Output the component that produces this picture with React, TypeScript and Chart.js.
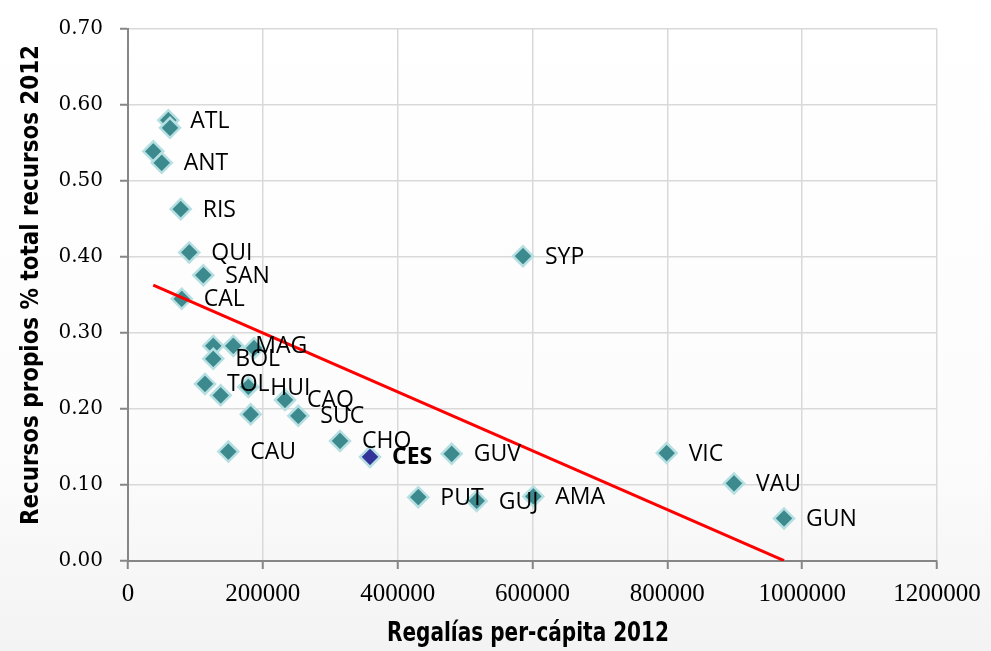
import React, { useEffect, useRef } from "react";
import { Chart, registerables } from "chart.js";

Chart.register(...registerables);

// ---- Data ----
const pointLabels = [
  "ATL", "", "", "ANT", "RIS", "QUI", "SAN", "CAL", "", "MAG", "BOL", "", "TOL", "", "HUI",
  "", "CAQ", "SUC", "CHO", "CAU", "CES", "GUV", "PUT", "GUJ", "AMA", "SYP", "VIC", "VAU", "GUN",
];
const regaliasPerCapita = [
  59800, 62300, 37500, 50000, 78200, 90900, 111700, 79700, 126500, 156200, 126500, 186900, 114200,
  137500, 178500, 182000, 232900, 252600, 314500, 148800, 359000, 480100, 430600, 517200, 601200,
  585900, 799000, 898900, 973100,
];
const recursosPropios = [
  0.58, 0.57, 0.539, 0.524, 0.463, 0.406, 0.376, 0.345, 0.283, 0.283, 0.266, 0.28, 0.233, 0.218,
  0.229, 0.193, 0.212, 0.191, 0.158, 0.144, 0.137, 0.141, 0.084, 0.079, 0.085, 0.401, 0.142, 0.102,
  0.056,
];
const highlighted = "CES";
const trendX = [37500, 973100];
const trendY = [0.363, 0.0005];
const xTickValues = [0, 200000, 400000, 600000, 800000, 1000000, 1200000];
const yTickValues = [0, 0.1, 0.2, 0.3, 0.4, 0.5, 0.6, 0.7];
const xTitle = "Regalías per-cápita 2012";
const yTitle = "Recursos propios % total recursos 2012";

const TEAL = "#3d8a8e";
const TEAL_BORDER = "#b6dfe2";
const CES_FILL = "#333399";

const backgroundPlugin = {
  id: "bg",
  beforeDraw(chart: any) {
    const { ctx, width, height } = chart;
    const g = ctx.createLinearGradient(0, 0, 0, height);
    g.addColorStop(0, "#ffffff");
    g.addColorStop(0.7, "#fcfcfc");
    g.addColorStop(1, "#f3f3f3");
    ctx.save();
    ctx.fillStyle = g;
    ctx.fillRect(0, 0, width, height);
    ctx.restore();
  },
};

const labelPlugin = {
  id: "pointLabels",
  afterDatasetsDraw(chart: any) {
    const { ctx } = chart;
    const meta = chart.getDatasetMeta(0);
    ctx.save();
    ctx.fillStyle = "#000";
    ctx.textBaseline = "middle";
    ctx.textAlign = "left";
    meta.data.forEach((el: any, i: number) => {
      const label = pointLabels[i];
      if (!label) return;
      ctx.font = (label === highlighted ? "bold " : "") + '23px "Open Sans", "Noto Sans", sans-serif';
      ctx.fillText(label, el.x + 22, el.y + 1);
    });
    ctx.restore();
  },
};

function drawFitted(ctx: any, text: string, font: string, maxW: number) {
  ctx.font = font;
  const w = ctx.measureText(text).width;
  const s = w > maxW ? maxW / w : 1;
  ctx.scale(s, 1);
  ctx.fillText(text, 0, 0);
}

const titlePlugin = {
  id: "axisTitles",
  afterDraw(chart: any) {
    const { ctx } = chart;
    const font = 'bold 26px "Liberation Sans Narrow", "DejaVu Sans Condensed", "Liberation Sans", sans-serif';
    ctx.save();
    ctx.fillStyle = "#000";
    ctx.textAlign = "center";
    ctx.textBaseline = "middle";
    ctx.translate(528, 634);
    drawFitted(ctx, xTitle, font, 282);
    ctx.restore();

    ctx.save();
    ctx.fillStyle = "#000";
    ctx.textAlign = "center";
    ctx.textBaseline = "middle";
    ctx.translate(31, 285);
    ctx.rotate(-Math.PI / 2);
    drawFitted(ctx, yTitle, 'bold 25px "Liberation Sans Narrow", "DejaVu Sans Condensed", "Liberation Sans", sans-serif', 480);
    ctx.restore();
  },
};

export default function App() {
  const ref = useRef<HTMLCanvasElement | null>(null);
  useEffect(() => {
    if (!ref.current) return;
    const points = regaliasPerCapita.map((x, i) => ({ x, y: recursosPropios[i] }));
    const fills = pointLabels.map((l) => (l === highlighted ? CES_FILL : TEAL));
    const chart = new Chart(ref.current, {
      type: "scatter",
      data: {
        datasets: [
          {
            label: "Departamentos",
            data: points,
            pointStyle: "rectRot",
            pointRadius: 10,
            pointHoverRadius: 10,
            backgroundColor: fills,
            borderColor: TEAL_BORDER,
            borderWidth: 2.5,
            order: 2,
          },
          {
            type: "line",
            label: "Tendencia",
            data: trendX.map((x, i) => ({ x, y: trendY[i] })),
            borderColor: "#ff0000",
            borderWidth: 3,
            pointRadius: 0,
            fill: false,
            order: 1,
          } as any,
        ],
      },
      options: {
        responsive: false,
        animation: false,
        layout: { padding: { top: 24, right: 54, left: 0, bottom: 0 } },
        plugins: {
          legend: { display: false },
          tooltip: { enabled: false },
        },
        scales: {
          x: {
            type: "linear",
            min: 0,
            max: 1200000,
            afterFit: (s: any) => {
              s.height = 90;
            },
            afterBuildTicks: (s: any) => {
              s.ticks = xTickValues.map((v) => ({ value: v }));
            },
            ticks: {
              callback: (v: any) => String(v),
              font: { family: '"Liberation Serif", serif', size: 25 },
              color: "#000",
              padding: 10,
              maxRotation: 0,
              autoSkip: false,
            },
            grid: {
              color: "#d9d9d9",
              lineWidth: 1.5,
              tickColor: "#868686",
              tickLength: 8,
              tickWidth: 2,
            },
            border: { color: "#868686", width: 2 },
          },
          y: {
            type: "linear",
            min: 0,
            max: 0.7,
            afterFit: (s: any) => {
              s.width = 128;
            },
            afterBuildTicks: (s: any) => {
              s.ticks = yTickValues.map((v) => ({ value: v }));
            },
            ticks: {
              callback: (v: any) => Number(v).toFixed(2),
              font: { family: '"DejaVu Serif", serif', size: 20 },
              color: "#000",
              padding: 17,
            },
            grid: {
              color: "#d9d9d9",
              lineWidth: 1.5,
              tickColor: "#868686",
              tickLength: 8,
              tickWidth: 2,
            },
            border: { color: "#868686", width: 2 },
          },
        },
      },
      plugins: [backgroundPlugin, labelPlugin, titlePlugin],
    });
    return () => chart.destroy();
  }, []);

  return (
    <div style={{ position: "absolute", left: 0, top: 0, width: 991, height: 651 }}>
      <canvas ref={ref} width={991} height={651} style={{ display: "block" }} />
    </div>
  );
}
